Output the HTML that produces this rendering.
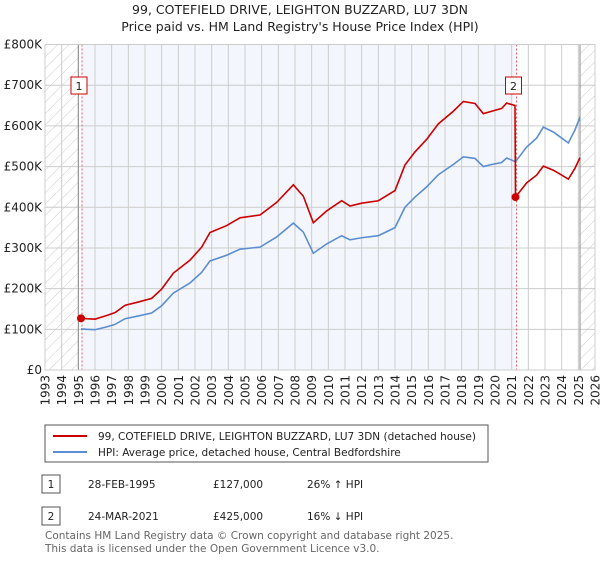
<!DOCTYPE html>
<html><head><meta charset="utf-8"><style>
body{margin:0;background:#fff;font-family:"Liberation Sans","DejaVu Sans",sans-serif;}
svg text{font-family:"DejaVu Sans","Liberation Sans",sans-serif;}
</style></head><body>
<svg id="c" width="600" height="560" xmlns="http://www.w3.org/2000/svg">
<defs><pattern id="h" width="8" height="8" patternUnits="userSpaceOnUse" patternTransform="rotate(45)"><line x1="0" y1="0" x2="0" y2="8" stroke="#ccc" stroke-width="1"/></pattern></defs>
<text x="300" y="14" text-anchor="middle" font-size="12.5" fill="#222">99, COTEFIELD DRIVE, LEIGHTON BUZZARD, LU7 3DN</text>
<text x="300" y="31" text-anchor="middle" font-size="12.5" fill="#222">Price paid vs. HM Land Registry's House Price Index (HPI)</text>
<g id="plot"></g>
<g>
<rect x="45" y="425" width="443" height="37" fill="#fff" stroke="#555"/>
<line x1="53" y1="436" x2="87" y2="436" stroke="#cc0000" stroke-width="2"/>
<text x="98" y="440" font-size="10.5" fill="#222">99, COTEFIELD DRIVE, LEIGHTON BUZZARD, LU7 3DN (detached house)</text>
<line x1="53" y1="452" x2="87" y2="452" stroke="#5b8dd0" stroke-width="2"/>
<text x="98" y="456" font-size="10.5" fill="#222">HPI: Average price, detached house, Central Bedfordshire</text>
</g>
<g font-size="10.5" fill="#222">
<rect x="42" y="475" width="18" height="18" fill="#fff" stroke="#555"/><text x="51" y="488" text-anchor="middle">1</text>
<text x="88" y="488">28-FEB-1995</text><text x="213" y="488">£127,000</text><text x="307" y="488">26% ↑ HPI</text>
<rect x="42" y="507" width="18" height="18" fill="#fff" stroke="#555"/><text x="51" y="520" text-anchor="middle">2</text>
<text x="88" y="520">24-MAR-2021</text><text x="213" y="520">£425,000</text><text x="307" y="520">16% ↓ HPI</text>
</g>
<text x="45" y="539" font-size="10.5" fill="#666">Contains HM Land Registry data © Crown copyright and database right 2025.</text>
<text x="45" y="552" font-size="10.5" fill="#666">This data is licensed under the Open Government Licence v3.0.</text>
</svg>
<script>
const hpiYears=[1995.16,1995.5,1996,1996.7,1997.2,1997.8,1998.5,1999.4,2000,2000.7,2001.7,2002.4,2002.9,2003.9,2004.7,2005.9,2006.9,2007.9,2008.5,2009.1,2009.9,2010.8,2011.3,2012,2013,2014,2014.6,2015.2,2015.9,2016.6,2017.5,2018.1,2018.8,2019.3,2019.8,2020.4,2020.7,2021.23,2021.9,2022.5,2022.9,2023.5,2024.0,2024.4,2024.8,2025.1];
const hpiValues=[101,100,99,106,112,126,132,140,158,189,214,240,268,282,297,302,327,361,339,287,310,330,320,325,330,350,400,425,450,480,505,524,520,500,505,510,521,512,548,570,597,585,570,558,590,622];
const priceYears=[1995.16,1995.5,1996,1996.7,1997.2,1997.8,1998.5,1999.4,2000,2000.7,2001.7,2002.4,2002.9,2003.9,2004.7,2005.9,2006.9,2007.9,2008.5,2009.1,2009.9,2010.8,2011.3,2012,2013,2014,2014.6,2015.2,2015.9,2016.6,2017.5,2018.1,2018.8,2019.3,2019.8,2020.4,2020.7,2021.2,2021.23,2021.9,2022.5,2022.9,2023.5,2024.0,2024.4,2024.8,2025.1];
const priceValues=[127,126,125,134,141,159,166,176,199,238,270,302,338,355,374,381,412,455,427,362,391,416,403,410,416,441,504,536,567,605,636,660,655,630,636,643,656,650,425,460,479,501,491,479,469,496,522];
const saleYears=[1995.16,2021.23];
const saleValues=[127,425];
const saleLabels=["1","2"];
const yTicks=[0,100,200,300,400,500,600,700,800];
const yTickLabels=["£0","£100K","£200K","£300K","£400K","£500K","£600K","£700K","£800K"];
const xTicks=[1993,1994,1995,1996,1997,1998,1999,2000,2001,2002,2003,2004,2005,2006,2007,2008,2009,2010,2011,2012,2013,2014,2015,2016,2017,2018,2019,2020,2021,2022,2023,2024,2025,2026];
const dataEnd=2025.1;

const X0=45,X1=595,Y0=370,Y1=44.5;
const xs=y=>X0+(y-1993)/(2026-1993)*(X1-X0);
const ys=v=>Y0-v/800*(Y0-Y1);
const NS="http://www.w3.org/2000/svg";
const g=document.getElementById('plot');
function mk(t,a,p){const e=document.createElementNS(NS,t);for(const k in a)e.setAttribute(k,a[k]);(p||g).appendChild(e);return e;}

const bg=mk('rect',{x:xs(saleYears[0]),y:Y1,width:xs(saleYears[1])-xs(saleYears[0]),height:Y0-Y1,fill:'#f3f7fd'});


const h1=mk('rect',{x:X0,y:Y1,width:xs(1995)-X0,height:Y0-Y1,fill:'url(#h)'});


const h2=mk('rect',{x:xs(dataEnd),y:Y1,width:X1-xs(dataEnd),height:Y0-Y1,fill:'url(#h)'});



xTicks.forEach(t=>{
  const l=mk('line',{x1:xs(t),x2:xs(t),y1:Y1,y2:Y0,stroke:'#ccc','stroke-width':1});
  
  
  const px=xs(t)+4.5, py=Y0+5;
  const tx=mk('text',{x:px,y:py,'text-anchor':'end','font-size':12,fill:'#222',transform:'rotate(-90 '+px+' '+py+')'});
  tx.textContent=t;
  
  
});
yTicks.forEach((t,i)=>{
  const l=mk('line',{x1:X0,x2:X1,y1:ys(t),y2:ys(t),stroke:'#ccc','stroke-width':1});
  
  
  const tx=mk('text',{x:X0-3,y:ys(t)+4,'text-anchor':'end','font-size':12,fill:'#222'});
  tx.textContent=yTickLabels[i];
  
  
});
[1995,dataEnd].forEach(t=>{
  const l=mk('line',{x1:xs(t),x2:xs(t),y1:Y1,y2:Y0,stroke:'#888','stroke-width':1});
  
  
});
saleYears.forEach(t=>{
  const l=mk('line',{x1:xs(t)+1,x2:xs(t)+1,y1:Y1,y2:Y0,stroke:'#f06060','stroke-width':1,'stroke-dasharray':'2,2'});
  
  
});
const fr=mk('rect',{x:X0,y:Y1,width:X1-X0,height:Y0-Y1,fill:'none',stroke:'#ccc'});



const hp=mk('polyline',{points:hpiYears.map((y,i)=>xs(y)+','+ys(hpiValues[i])).join(' '),fill:'none',stroke:'#5b8dd0','stroke-width':1.6});


const pp=mk('polyline',{points:priceYears.map((y,i)=>xs(y)+','+ys(priceValues[i])).join(' '),fill:'none',stroke:'#cc0000','stroke-width':1.6});



saleYears.forEach((t,i)=>{
  const c=mk('circle',{cx:xs(t),cy:ys(saleValues[i]),r:4,fill:'#cc0000'});
  
  
  const bx=xs(t)-9;
  const r=mk('rect',{x:bx-1,y:77,width:16,height:17,fill:'#fff',stroke:'#cc0000'});
  
  
  const tx=mk('text',{x:bx+7,y:90,'text-anchor':'middle','font-size':11,fill:'#222'});
  tx.textContent=saleLabels[i];
  
  
});
</script>
</body></html>
